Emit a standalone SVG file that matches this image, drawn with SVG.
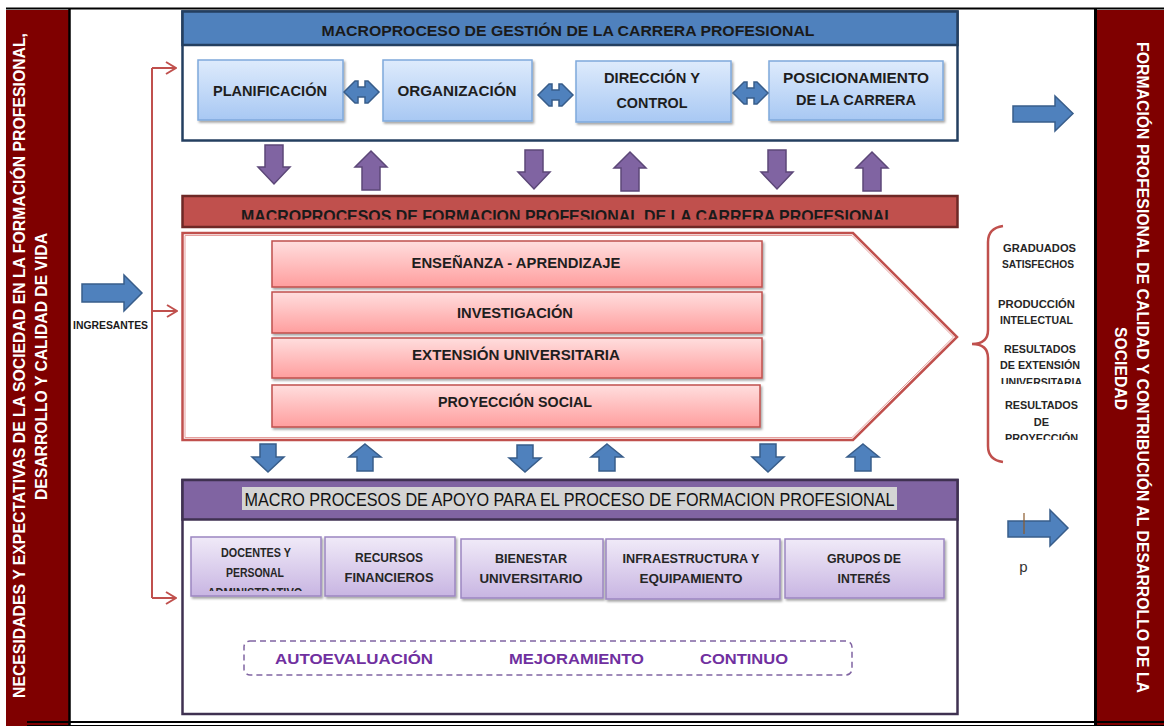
<svg xmlns="http://www.w3.org/2000/svg" width="1164" height="726" viewBox="0 0 1164 726">
<defs>
<linearGradient id="gBlue" x1="0" y1="0" x2="0" y2="1"><stop offset="0" stop-color="#DEEBFC"/><stop offset="1" stop-color="#A8C8F3"/></linearGradient>
<linearGradient id="gPink" x1="0" y1="0" x2="0" y2="1"><stop offset="0" stop-color="#FFDEDE"/><stop offset="1" stop-color="#FF9E9E"/></linearGradient>
<linearGradient id="gPurple" x1="0" y1="0" x2="0" y2="1"><stop offset="0" stop-color="#F0EAF8"/><stop offset="1" stop-color="#C8B5E2"/></linearGradient>
<filter id="sh" x="-5%" y="-10%" width="115%" height="130%"><feDropShadow dx="1.5" dy="2" stdDeviation="1.2" flood-color="#000" flood-opacity="0.35"/></filter>
<clipPath id="cRed"><rect x="182" y="196" width="776" height="23.5"/></clipPath>
<clipPath id="cDoc"><rect x="191" y="537" width="130" height="54"/></clipPath>
<clipPath id="cUni"><rect x="990" y="370" width="110" height="14"/></clipPath>
<clipPath id="cPro"><rect x="990" y="428" width="110" height="12"/></clipPath>
<marker id="chev" viewBox="0 0 12 14" refX="11" refY="7" markerWidth="12" markerHeight="14" markerUnits="userSpaceOnUse" orient="auto"><path d="M1,1 L11,7 L1,13" fill="none" stroke="#C0504D" stroke-width="2"/></marker>
<style>
text{font-family:"Liberation Sans",Arial,sans-serif;}
.b{font-weight:bold;}
.band{fill:#7F0000;}
.bandT{fill:#FFFFFF;font-weight:bold;font-size:16px;}
.bbox{fill:url(#gBlue);stroke:#7FA9DC;stroke-width:1.5;filter:url(#sh);}
.pbox{fill:url(#gPink);stroke:#C0504D;stroke-width:1.5;filter:url(#sh);}
.vbox{fill:url(#gPurple);stroke:#9C86C1;stroke-width:1.5;filter:url(#sh);}
.pArrow{fill:#8064A2;stroke:#5C4778;stroke-width:1.5;}
.bArrow{fill:#4F81BD;stroke:#385D8A;stroke-width:1.5;}
.conn{fill:none;stroke:#C0504D;stroke-width:2;}
.t14{font-size:14px;font-weight:bold;fill:#1E1E1E;}
.t15{font-size:15px;font-weight:bold;fill:#1E1E1E;}
.t12{font-size:12px;font-weight:bold;fill:#262626;}
.t11{font-size:11px;font-weight:bold;fill:#262626;}
.cont{font-size:15px;font-weight:bold;fill:#7030A0;}
</style>
</defs>
<rect width="1164" height="726" fill="#FFFFFF"/>

<g id="frame">
<rect class="band" x="6" y="10" width="63" height="716"/>
<rect class="band" x="1097" y="10" width="67" height="716"/>
<line x1="6" y1="8.5" x2="1164" y2="8.5" stroke="#000" stroke-width="2"/>
<line x1="69.5" y1="8" x2="69.5" y2="726" stroke="#000" stroke-width="2.5"/>
<line x1="1095.5" y1="8" x2="1095.5" y2="726" stroke="#000" stroke-width="3"/>
<line x1="27" y1="722" x2="1164" y2="722" stroke="#000" stroke-width="2"/>
<line x1="27" y1="725.5" x2="1164" y2="725.5" stroke="#000" stroke-width="1"/>
</g>

<g id="left-band-text">
<text class="bandT" transform="translate(25,365.5) rotate(-90)" text-anchor="middle" textLength="665" lengthAdjust="spacingAndGlyphs">NECESIDADES Y EXPECTATIVAS DE LA SOCIEDAD EN LA FORMACIÓN PROFESIONAL,</text>
<text class="bandT" transform="translate(47,366.5) rotate(-90)" text-anchor="middle" textLength="267" lengthAdjust="spacingAndGlyphs">DESARROLLO Y CALIDAD DE VIDA</text>
</g>

<g id="right-band-text">
<text class="bandT" transform="translate(1137,367.5) rotate(90)" text-anchor="middle" textLength="651" lengthAdjust="spacingAndGlyphs">FORMACIÓN PROFESIONAL DE CALIDAD Y CONTRIBUCIÓN AL DESARROLLO DE LA</text>
<text class="bandT" transform="translate(1115,368.5) rotate(90)" text-anchor="middle" textLength="83" lengthAdjust="spacingAndGlyphs">SOCIEDAD</text>
</g>

<g id="gestion">
<rect x="182.5" y="11.5" width="775" height="129" fill="#FFFFFF" stroke="#243F60" stroke-width="2.5"/>
<rect x="182.5" y="11.5" width="775" height="33.5" fill="#4F81BD" stroke="#243F60" stroke-width="2.5"/>
<text class="b" x="568" y="36" font-size="15.5" fill="#1A1A1A" text-anchor="middle" textLength="493" lengthAdjust="spacingAndGlyphs">MACROPROCESO DE GESTIÓN DE LA CARRERA PROFESIONAL</text>
</g>

<g id="planificacion">
<rect class="bbox" x="198" y="60" width="145" height="60"/>
<text class="t14" x="270" y="95.5" text-anchor="middle" textLength="114" lengthAdjust="spacingAndGlyphs">PLANIFICACIÓN</text>
</g>
<g id="organizacion">
<rect class="bbox" x="383" y="60" width="149" height="61"/>
<text class="t14" x="457" y="95.5" text-anchor="middle" textLength="119" lengthAdjust="spacingAndGlyphs">ORGANIZACIÓN</text>
</g>
<g id="direccion">
<rect class="bbox" x="576" y="61" width="155" height="61"/>
<text class="t14" x="652" y="83" text-anchor="middle" textLength="96" lengthAdjust="spacingAndGlyphs">DIRECCIÓN Y</text>
<text class="t14" x="652" y="108" text-anchor="middle" textLength="71" lengthAdjust="spacingAndGlyphs">CONTROL</text>
</g>
<g id="posicionamiento">
<rect class="bbox" x="769" y="61" width="174" height="59"/>
<text class="t14" x="856" y="83" text-anchor="middle" textLength="146" lengthAdjust="spacingAndGlyphs">POSICIONAMIENTO</text>
<text class="t14" x="856" y="105" text-anchor="middle" textLength="120" lengthAdjust="spacingAndGlyphs">DE LA CARRERA</text>
</g>

<g id="formacion-bar">
<rect x="182.5" y="196" width="775" height="31" fill="#C0504D" stroke="#6E2826" stroke-width="2.5"/>
<text class="b" x="567.5" y="222" font-size="16.5" fill="#1A1A1A" text-anchor="middle" textLength="653" lengthAdjust="spacingAndGlyphs" clip-path="url(#cRed)">MACROPROCESOS DE FORMACION PROFESIONAL DE LA CARRERA PROFESIONAL</text>
</g>

<g id="formacion-pentagon">
<path d="M182.5,233 H853 L957,337 L853,440 H182.5 Z" fill="#FFFFFF" stroke="#C0504D" stroke-width="2.5"/>
<path d="M185,235.5 H852 L953.5,337 L852,437.5 H185 Z" fill="none" stroke="#E6A09E" stroke-width="1"/>
</g>

<g id="ensenanza">
<rect class="pbox" x="272" y="241" width="490" height="46"/>
<text class="t15" x="516" y="268" text-anchor="middle" textLength="209" lengthAdjust="spacingAndGlyphs">ENSEÑANZA - APRENDIZAJE</text>
</g>
<g id="investigacion">
<rect class="pbox" x="272" y="292" width="490" height="41"/>
<text class="t15" x="515" y="318" text-anchor="middle" textLength="116" lengthAdjust="spacingAndGlyphs">INVESTIGACIÓN</text>
</g>
<g id="extension">
<rect class="pbox" x="272" y="338" width="490" height="40"/>
<text class="t15" x="516" y="360" text-anchor="middle" textLength="208" lengthAdjust="spacingAndGlyphs">EXTENSIÓN UNIVERSITARIA</text>
</g>
<g id="proyeccion">
<rect class="pbox" x="272" y="385" width="488" height="42"/>
<text class="t15" x="515" y="407" text-anchor="middle" textLength="154" lengthAdjust="spacingAndGlyphs">PROYECCIÓN SOCIAL</text>
</g>

<g id="apoyo">
<rect x="182.5" y="480" width="775" height="234" fill="#FFFFFF" stroke="#3F3151" stroke-width="2.5"/>
<rect x="182.5" y="480" width="775" height="39.5" fill="#8064A2" stroke="#3F3151" stroke-width="2.5"/>
<rect x="242" y="487" width="655" height="23" fill="#D4D4D4"/>
<text x="569.5" y="506" font-size="17.5" fill="#111111" text-anchor="middle" textLength="650" lengthAdjust="spacingAndGlyphs">MACRO PROCESOS DE APOYO PARA EL PROCESO DE FORMACION PROFESIONAL</text>
</g>

<g id="docentes">
<rect class="vbox" x="191" y="537" width="130" height="59"/>
<text class="t12" x="256" y="557" text-anchor="middle" textLength="70" lengthAdjust="spacingAndGlyphs">DOCENTES Y</text>
<text class="t12" x="255" y="577" text-anchor="middle" textLength="58" lengthAdjust="spacingAndGlyphs">PERSONAL</text>
<text class="t12" x="255" y="597" text-anchor="middle" textLength="95" lengthAdjust="spacingAndGlyphs" clip-path="url(#cDoc)">ADMINISTRATIVO</text>
</g>
<g id="recursos">
<rect class="vbox" x="325" y="537" width="130" height="59"/>
<text class="t12" x="389" y="562" text-anchor="middle" textLength="68" lengthAdjust="spacingAndGlyphs">RECURSOS</text>
<text class="t12" x="389" y="582" text-anchor="middle" textLength="89" lengthAdjust="spacingAndGlyphs">FINANCIEROS</text>
</g>
<g id="bienestar">
<rect class="vbox" x="461" y="539" width="142" height="59"/>
<text class="t12" x="531" y="563" text-anchor="middle" textLength="72" lengthAdjust="spacingAndGlyphs">BIENESTAR</text>
<text class="t12" x="531" y="583" text-anchor="middle" textLength="103" lengthAdjust="spacingAndGlyphs">UNIVERSITARIO</text>
</g>
<g id="infraestructura">
<rect class="vbox" x="606" y="539" width="174" height="60"/>
<text class="t12" x="691" y="563" text-anchor="middle" textLength="137" lengthAdjust="spacingAndGlyphs">INFRAESTRUCTURA Y</text>
<text class="t12" x="691" y="583" text-anchor="middle" textLength="103" lengthAdjust="spacingAndGlyphs">EQUIPAMIENTO</text>
</g>
<g id="grupos">
<rect class="vbox" x="785" y="539" width="159" height="59"/>
<text class="t12" x="864" y="563" text-anchor="middle" textLength="74" lengthAdjust="spacingAndGlyphs">GRUPOS DE</text>
<text class="t12" x="864" y="583" text-anchor="middle" textLength="53" lengthAdjust="spacingAndGlyphs">INTERÉS</text>
</g>

<g id="mejora-continua">
<rect x="244" y="641" width="608" height="34" rx="6" fill="none" stroke="#8064A2" stroke-width="1.5" stroke-dasharray="6,4"/>
<text class="cont" x="354" y="664" text-anchor="middle" textLength="158" lengthAdjust="spacingAndGlyphs">AUTOEVALUACIÓN</text>
<text class="cont" x="576.5" y="664" text-anchor="middle" textLength="135" lengthAdjust="spacingAndGlyphs">MEJORAMIENTO</text>
<text class="cont" x="744" y="664" text-anchor="middle" textLength="88" lengthAdjust="spacingAndGlyphs">CONTINUO</text>
</g>

<g id="resultados">
<path d="M1003,226 Q988,228 988,242 V330 Q988,344 972,344 Q988,344 988,358 V446 Q988,460 1003,462" fill="none" stroke="#C0504D" stroke-width="2.5"/>
<text class="t11" x="1039.5" y="252" text-anchor="middle" textLength="73" lengthAdjust="spacingAndGlyphs">GRADUADOS</text>
<text class="t11" x="1038" y="268" text-anchor="middle" textLength="72" lengthAdjust="spacingAndGlyphs">SATISFECHOS</text>
<text class="t11" x="1036.5" y="308" text-anchor="middle" textLength="77" lengthAdjust="spacingAndGlyphs">PRODUCCIÓN</text>
<text class="t11" x="1036.5" y="324" text-anchor="middle" textLength="73" lengthAdjust="spacingAndGlyphs">INTELECTUAL</text>
<text class="t11" x="1040" y="353" text-anchor="middle" textLength="72" lengthAdjust="spacingAndGlyphs">RESULTADOS</text>
<text class="t11" x="1040" y="369" text-anchor="middle" textLength="80" lengthAdjust="spacingAndGlyphs">DE EXTENSIÓN</text>
<text class="t11" x="1041.5" y="386" text-anchor="middle" textLength="81" lengthAdjust="spacingAndGlyphs" clip-path="url(#cUni)">UNIVERSITARIA</text>
<text class="t11" x="1041.5" y="409" text-anchor="middle" textLength="73" lengthAdjust="spacingAndGlyphs">RESULTADOS</text>
<text class="t11" x="1041.5" y="426" text-anchor="middle">DE</text>
<text class="t11" x="1041.5" y="442" text-anchor="middle" textLength="73" lengthAdjust="spacingAndGlyphs" clip-path="url(#cPro)">PROYECCIÓN</text>
</g>

<g id="ingresantes">
<text class="b" x="110.5" y="329" font-size="10.5" fill="#1A1A1A" text-anchor="middle" textLength="75" lengthAdjust="spacingAndGlyphs">INGRESANTES</text>
</g>

<g id="p-label">
<text x="1023.5" y="572" font-size="15" fill="#333333" text-anchor="middle">p</text>
</g>

<g id="connectors">
<path class="conn" d="M152,68 V598"/>
<path class="conn" d="M152,68 H176" marker-end="url(#chev)"/>
<path class="conn" d="M152,311 H177" marker-end="url(#chev)"/>
<path class="conn" d="M152,598 H176" marker-end="url(#chev)"/>
<path class="bArrow" d="M344,92 L355,81 H358 V87 H365 V81 H368 L379,92 L368,103 H365 V97 H358 V103 H355 Z"/>
<path class="bArrow" d="M538,95 L549,84 H552 V90 H559 V84 H562 L573,95 L562,106 H559 V100 H552 V106 H549 Z"/>
<path class="bArrow" d="M733,93 L744,82 H747 V88 H754 V82 H757 L768,93 L757,104 H754 V98 H747 V104 H744 Z"/>
<path class="pArrow" d="M265,145 H283 V167 H290 L274,184 L258,167 H265 Z"/>
<path class="pArrow" d="M525,150 H543 V172 H550 L534,189 L518,172 H525 Z"/>
<path class="pArrow" d="M768,150 H786 V172 H793 L777,189 L761,172 H768 Z"/>
<path class="pArrow" d="M371,151 L387,167 H380 V190 H362 V167 H355 Z"/>
<path class="pArrow" d="M630,152 L646,168 H639 V191 H621 V168 H614 Z"/>
<path class="pArrow" d="M872,152 L888,168 H881 V191 H863 V168 H856 Z"/>
<path class="bArrow" d="M260,444 H276 V457 H284 L268,472 L252,457 H260 Z"/>
<path class="bArrow" d="M517,445 H533 V458 H541 L525,472 L509,458 H517 Z"/>
<path class="bArrow" d="M760,444 H776 V457 H784 L768,472 L752,457 H760 Z"/>
<path class="bArrow" d="M365,444 L381,457 H373 V471 H357 V457 H349 Z"/>
<path class="bArrow" d="M607,444 L623,457 H615 V471 H599 V457 H591 Z"/>
<path class="bArrow" d="M863,444 L879,457 H871 V471 H855 V457 H847 Z"/>
<path class="bArrow" d="M82,284 H124 V275 L142,293 L124,311 V302 H82 Z"/>
<path class="bArrow" d="M1013,106 H1055 V96 L1073,113.5 L1055,131 V122 H1013 Z"/>
<path class="bArrow" d="M1008,521 H1050 V510 L1068,528 L1050,546 V537 H1008 Z"/>
<line x1="1024" y1="513" x2="1024" y2="534" stroke="#8B5A2B" stroke-width="1.2"/>
</g>
</svg>
